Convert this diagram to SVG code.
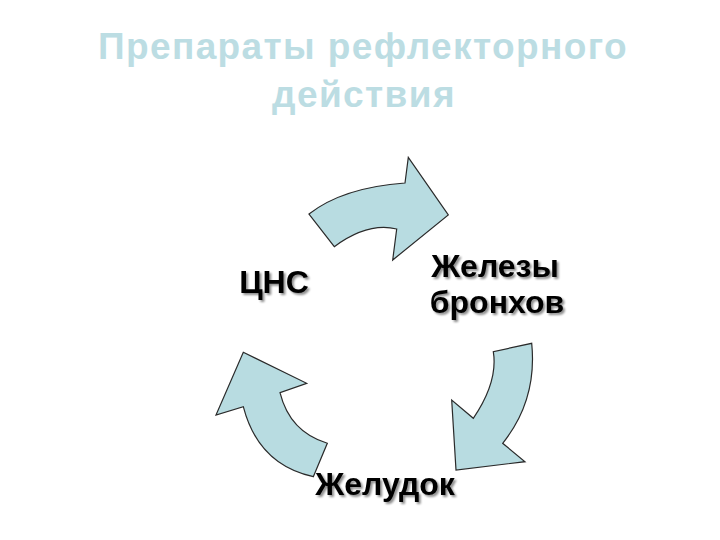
<svg xmlns="http://www.w3.org/2000/svg" width="720" height="540" viewBox="0 0 720 540">
<defs>
<style>
.title{font-family:"Liberation Sans",Arial,sans-serif;font-weight:bold;font-size:37px;letter-spacing:1.4px;fill:#BCDDE3;text-anchor:middle}
.lbl{font-family:"Liberation Sans",Arial,sans-serif;font-weight:bold;font-size:32px;fill:#000;text-anchor:middle;filter:url(#sh)}
.arr{fill:#B8DCE1;stroke:#2a2a2a;stroke-width:1.2;stroke-linejoin:miter}
</style>
<filter id="sh" x="-10%" y="-20%" width="130%" height="150%">
<feGaussianBlur in="SourceAlpha" stdDeviation="1"/>
<feOffset dx="2" dy="2" result="b"/>
<feComponentTransfer><feFuncA type="linear" slope="0.45"/></feComponentTransfer>
<feMerge><feMergeNode/><feMergeNode in="SourceGraphic"/></feMerge>
</filter>
</defs>
<rect width="720" height="540" fill="#fff"/>
<g id="title">
<text class="title" x="363" y="59">Препараты рефлекторного</text>
<text class="title" x="364" y="107">действия</text>
</g>
<g id="connectors">
<path class="arr" d="M309,214 Q343,187.5 405,183 L408.3,157.3 L448.3,215 L392.7,260 L396.7,229 Q367.8,222 334.3,246.7 Z"/>
<path class="arr" d="M531.7,343.3 Q537.4,400.2 502.7,443.3 L525,461.7 L456,470 L451.7,400 L473.3,418.3 Q498.2,381.6 493.3,351.7 Z"/>
<path class="arr" d="M313.3,476.7 Q258.4,464.8 243.3,406.7 L216,415 L243.3,352.3 L306.7,383.3 L280,392.7 Q289.8,432 327.3,443.3 Z"/>
</g>
<g id="node-bronchi">
<text class="lbl" x="495" y="277">Железы</text>
<text class="lbl" x="497" y="313">бронхов</text>
</g>
<g id="node-stomach">
<text class="lbl" x="385" y="495">Желудок</text>
</g>
<g id="node-cns">
<text class="lbl" x="274" y="293">ЦНС</text>
</g>
</svg>
